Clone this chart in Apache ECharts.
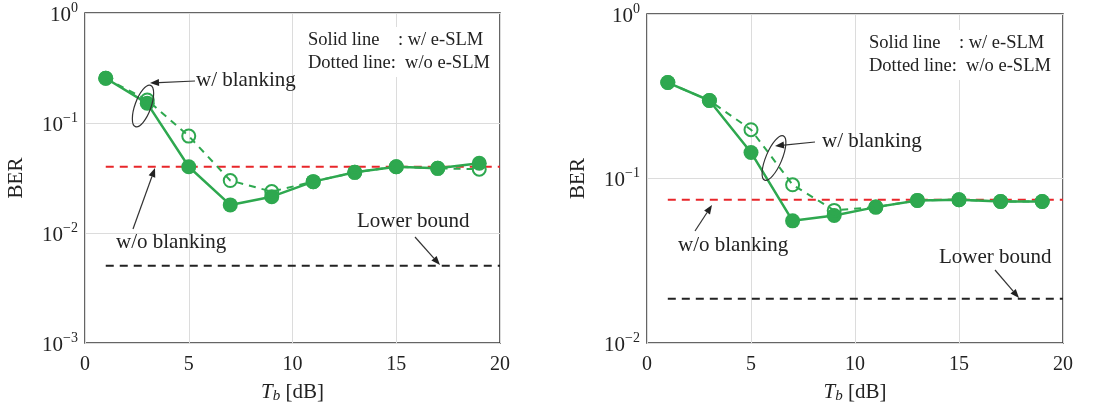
<!DOCTYPE html>
<html>
<head>
<meta charset="utf-8">
<script src="https://cdn.jsdelivr.net/npm/echarts@6/dist/echarts.min.js"></script>
<style>
  html, body { margin: 0; padding: 0; background: #fff; }
  #main { width: 1105px; height: 409px; }
</style>
</head>
<body>
<div id="main"></div>
<script>
const chart = echarts.init(document.getElementById('main'));

// data
const tb = [1, 3, 5, 7, 9, 11, 13, 15, 17, 19];
const leftSolid  = [0.255, 0.151, 0.040, 0.018, 0.0214, 0.0293, 0.0356, 0.040, 0.0387, 0.043];
const leftDashed = [0.255, 0.162, 0.076, 0.030, 0.0238, 0.0293, 0.0356, 0.040, 0.0387, 0.038];
const rightSolid  = [0.383, 0.298, 0.144, 0.0553, 0.0596, 0.067, 0.0736, 0.0743, 0.0725, 0.0725];
const rightDashed = [0.383, 0.298, 0.198, 0.0916, 0.064, 0.067, 0.0736, 0.0743, 0.0725, 0.0725];
const leftNoBlank = 0.040, leftBound = 0.00505;
const rightNoBlank = 0.0743, rightBound = 0.0186;
const xTicks = [0, 5, 10, 15, 20];

const GREEN = '#2ea84f';
const RED = '#e8262a';
const FONT = 'Liberation Serif';

function pairs(ys) { return tb.map((x, i) => [x, ys[i]]); }

function yLabel(v) {
  const e = Math.round(Math.log10(v));
  return '{b|10}{s|' + (e === 0 ? '0' : '\u2212' + (-e)) + '}';
}

function xAxis(idx) {
  return {
    gridIndex: idx, type: 'value', min: 0, max: 20, interval: 5,
    name: '{t|T}{sub|b}{n| [dB]}', nameLocation: 'middle', nameGap: 38,
    nameTextStyle: {
      rich: {
        t: { fontFamily: FONT, fontStyle: 'italic', fontSize: 21, color: '#222' },
        sub: { fontFamily: FONT, fontStyle: 'italic', fontSize: 15, color: '#222', padding: [8, 0, 0, 0] },
        n: { fontFamily: FONT, fontSize: 21, color: '#222' }
      }
    },
    axisLine: { show: false }, axisTick: { show: false },
    axisLabel: { fontFamily: FONT, fontSize: 20, color: '#222', margin: 12,
      customValues: xTicks },
    splitLine: { show: true, lineStyle: { color: '#dcdcdc', width: 1 } }
  };
}

function yAxis(idx, min) {
  return {
    gridIndex: idx, type: 'log', logBase: 10, min: min, max: 1,
    name: 'BER', nameLocation: 'middle', nameGap: 58, nameRotate: 90,
    nameTextStyle: { fontFamily: FONT, fontSize: 21, color: '#222' },
    axisLine: { show: false }, axisTick: { show: false },
    axisLabel: {
      formatter: yLabel, margin: 7,
      rich: {
        b: { fontFamily: FONT, fontSize: 21, color: '#222', padding: [4, 0, 0, 0] },
        s: { fontFamily: FONT, fontSize: 14, color: '#222', padding: [0, 0, 10, 0] }
      }
    },
    splitLine: { show: true, lineStyle: { color: '#dcdcdc', width: 1 } },
    minorSplitLine: { show: false }
  };
}

function panelSeries(idx, solid, dashed, noBlank, bound) {
  return [
    { type: 'line', xAxisIndex: idx, yAxisIndex: idx, data: [[1, noBlank], [20, noBlank]],
      symbol: 'none', lineStyle: { color: RED, width: 2, type: [8, 6] }, z: 2, silent: true },
    { type: 'line', xAxisIndex: idx, yAxisIndex: idx, data: [[1, bound], [20, bound]],
      symbol: 'none', lineStyle: { color: '#222', width: 2, type: [8, 6] }, z: 2, silent: true },
    { type: 'line', xAxisIndex: idx, yAxisIndex: idx, data: pairs(solid),
      symbol: 'circle', symbolSize: 15, lineStyle: { color: GREEN, width: 2.5 },
      itemStyle: { color: GREEN }, z: 3 },
    { type: 'line', xAxisIndex: idx, yAxisIndex: idx, data: pairs(dashed),
      symbol: 'circle', symbolSize: 13, lineStyle: { color: GREEN, width: 2, type: [7, 6] },
      itemStyle: { color: 'rgba(0,0,0,0)', borderColor: GREEN, borderWidth: 2 }, z: 4 }
  ];
}

function arrow(x1, y1, x2, y2) {
  const a = Math.atan2(y2 - y1, x2 - x1);
  const L = 9, W = 3.5;
  const bx = x2 - L * Math.cos(a), by = y2 - L * Math.sin(a);
  const px = -Math.sin(a) * W, py = Math.cos(a) * W;
  return [
    { type: 'line', shape: { x1: x1, y1: y1, x2: bx, y2: by }, style: { stroke: '#333', lineWidth: 1.2 }, z: 20 },
    { type: 'polygon', shape: { points: [[x2, y2], [bx + px, by + py], [bx - px, by - py]] }, style: { fill: '#222' }, z: 20 }
  ];
}

function label(x, y, text, size) {
  return { type: 'text', x: x, y: y, z: 21,
    style: { text: text, font: (size || 21) + 'px "' + FONT + '"', fill: '#222', textVerticalAlign: 'middle' } };
}

function legendBox(x, y) {
  return { type: 'text', x: x, y: y, z: 21,
    style: { text: 'Solid line    : w/ e-SLM\nDotted line:  w/o e-SLM', font: '18.5px "' + FONT + '"',
      fill: '#222', lineHeight: 23, backgroundColor: '#fff', padding: [2, 4] } };
}

function ellipse(cx, cy, rx, ry, rot) {
  return { type: 'ellipse', x: cx, y: cy, rotation: rot, z: 19,
    shape: { cx: 0, cy: 0, rx: rx, ry: ry }, style: { fill: 'none', stroke: '#333', lineWidth: 1.2 } };
}

const graphics = [].concat(
  [legendBox(304, 27)],
  [label(196, 80, 'w/ blanking'), ellipse(143, 106, 8, 22, -0.35)], arrow(195, 81, 150, 83),
  [label(116, 242, 'w/o blanking')], arrow(133, 229, 155, 168),
  [label(357, 221, 'Lower bound')], arrow(415, 237, 440, 265),
  [legendBox(865, 30)],
  [label(822, 141, 'w/ blanking'), ellipse(774, 158, 8, 24, -0.4)], arrow(815, 142, 775, 146),
  [label(678, 245, 'w/o blanking')], arrow(695, 231, 712, 205),
  [label(939, 257, 'Lower bound')], arrow(995, 270, 1019, 298)
);

chart.setOption({
  backgroundColor: '#fff',
  animation: false,
  grid: [
    { left: 85, top: 13, width: 415, height: 330, show: true, borderColor: '#333', borderWidth: 1.5, backgroundColor: 'transparent' },
    { left: 647, top: 14, width: 416, height: 329, show: true, borderColor: '#333', borderWidth: 1.5, backgroundColor: 'transparent' }
  ],
  xAxis: [xAxis(0), xAxis(1)],
  yAxis: [yAxis(0, 0.001), yAxis(1, 0.01)],
  series: [].concat(
    panelSeries(0, leftSolid, leftDashed, leftNoBlank, leftBound),
    panelSeries(1, rightSolid, rightDashed, rightNoBlank, rightBound)
  ),
  graphic: graphics
});
</script>
</body>
</html>
